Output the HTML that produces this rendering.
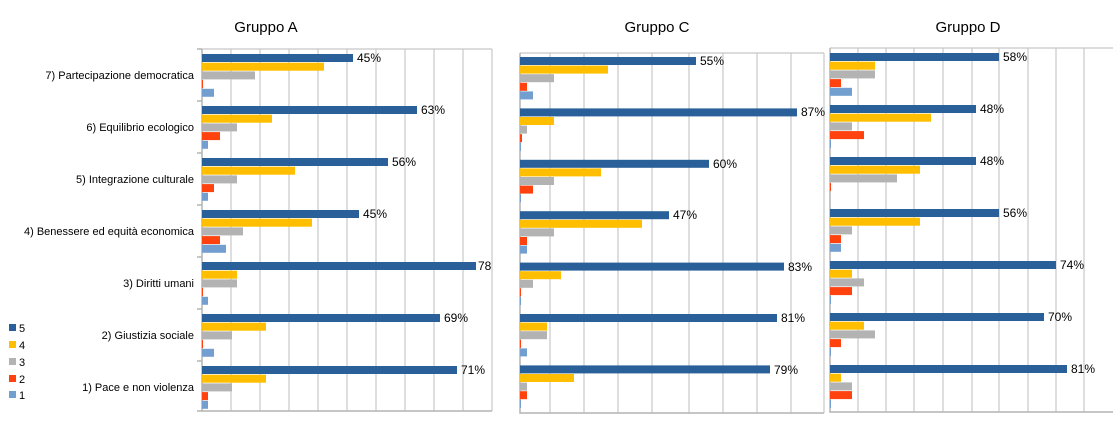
<!DOCTYPE html>
<html><head><meta charset="utf-8"><style>
html,body{margin:0;padding:0;background:#fff;}
svg{display:block;font-family:"Liberation Sans",sans-serif;}
</style></head><body>
<svg width="1117" height="447" viewBox="0 0 1117 447" xmlns="http://www.w3.org/2000/svg">
<g font-size="15" fill="#000" text-anchor="middle">
<text x="266" y="32">Gruppo A</text>
<text x="657" y="32">Gruppo C</text>
<text x="968" y="32">Gruppo D</text>
</g>
<g stroke="#c8c8c8" stroke-width="1.2" fill="none">
<path d="M231 49V411M260 49V411M289 49V411M318 49V411M347 49V411M376 49V411M405 49V411M434 49V411M463 49V411M492 49V411"/>
<path d="M202 49H492"/>
<path d="M550 53V413M584 53V413M618 53V413M652 53V413M689 53V413M723 53V413M757 53V413M791 53V413"/>
<path d="M520 53H824M824 53V413"/>
<path d="M858 48V412M886 48V412M914 48V412M943 48V412M972 48V412M999 48V412M1028 48V412M1056 48V412M1084 48V412"/>
<path d="M830 48H1113"/>
</g>
<g stroke="#b3b3b3" stroke-width="1.5" fill="none">
<path d="M202 49V411H492M197 49H202M197 101H202M197 153H202M197 205H202M197 257H202M197 309H202M197 361H202M197 411H202"/>
<path d="M520 53V413H824"/>
<path d="M830 48V412H1113"/>
</g>
<g>
<g fill="#2a6099"><rect x="202" y="54" width="151" height="8"/><rect x="202" y="106" width="215" height="8"/><rect x="202" y="158" width="186" height="8"/><rect x="202" y="210" width="157" height="8"/><rect x="202" y="262" width="274" height="8"/><rect x="202" y="314" width="238" height="8"/><rect x="202" y="366" width="255" height="8"/></g>
<g fill="#ffbf00"><rect x="202" y="62.7" width="122" height="8"/><rect x="202" y="114.7" width="70" height="8"/><rect x="202" y="166.7" width="93" height="8"/><rect x="202" y="218.7" width="110" height="8"/><rect x="202" y="270.7" width="35" height="8"/><rect x="202" y="322.7" width="64" height="8"/><rect x="202" y="374.7" width="64" height="8"/></g>
<g fill="#b3b3b3"><rect x="202" y="71.4" width="53" height="8"/><rect x="202" y="123.4" width="35" height="8"/><rect x="202" y="175.4" width="35" height="8"/><rect x="202" y="227.4" width="41" height="8"/><rect x="202" y="279.4" width="35" height="8"/><rect x="202" y="331.4" width="30" height="8"/><rect x="202" y="383.4" width="30" height="8"/></g>
<g fill="#ff420e"><rect x="202" y="80.1" width="1" height="8"/><rect x="202" y="132.1" width="18" height="8"/><rect x="202" y="184.1" width="12" height="8"/><rect x="202" y="236.1" width="18" height="8"/><rect x="202" y="288.1" width="1" height="8"/><rect x="202" y="340.1" width="1" height="8"/><rect x="202" y="392.1" width="6" height="8"/></g>
<g fill="#729fcf"><rect x="202" y="88.8" width="12" height="8"/><rect x="202" y="140.8" width="6" height="8"/><rect x="202" y="192.8" width="6" height="8"/><rect x="202" y="244.8" width="24" height="8"/><rect x="202" y="296.8" width="6" height="8"/><rect x="202" y="348.8" width="12" height="8"/><rect x="202" y="400.8" width="6" height="8"/></g>
</g>
<g>
<g fill="#2a6099"><rect x="520" y="57" width="176" height="8"/><rect x="520" y="108.4" width="277" height="8"/><rect x="520" y="159.8" width="189" height="8"/><rect x="520" y="211.2" width="149" height="8"/><rect x="520" y="262.6" width="264" height="8"/><rect x="520" y="314" width="257" height="8"/><rect x="520" y="365.4" width="250" height="8"/></g>
<g fill="#ffbf00"><rect x="520" y="65.6" width="88" height="8"/><rect x="520" y="117" width="34" height="8"/><rect x="520" y="168.4" width="81" height="8"/><rect x="520" y="219.8" width="122" height="8"/><rect x="520" y="271.2" width="41" height="8"/><rect x="520" y="322.6" width="27" height="8"/><rect x="520" y="374" width="54" height="8"/></g>
<g fill="#b3b3b3"><rect x="520" y="74.2" width="34" height="8"/><rect x="520" y="125.6" width="7" height="8"/><rect x="520" y="177" width="34" height="8"/><rect x="520" y="228.4" width="34" height="8"/><rect x="520" y="279.8" width="13" height="8"/><rect x="520" y="331.2" width="27" height="8"/><rect x="520" y="382.6" width="7" height="8"/></g>
<g fill="#ff420e"><rect x="520" y="82.8" width="7" height="8"/><rect x="520" y="134.2" width="2" height="8"/><rect x="520" y="185.6" width="13" height="8"/><rect x="520" y="237" width="7" height="8"/><rect x="520" y="288.4" width="1" height="8"/><rect x="520" y="339.8" width="1" height="8"/><rect x="520" y="391.2" width="7" height="8"/></g>
<g fill="#729fcf"><rect x="520" y="91.4" width="13" height="8"/><rect x="520" y="142.8" width="1" height="8"/><rect x="520" y="194.2" width="1" height="8"/><rect x="520" y="245.6" width="7" height="8"/><rect x="520" y="297" width="1" height="8"/><rect x="520" y="348.4" width="7" height="8"/><rect x="520" y="399.8" width="1" height="8"/></g>
</g>
<g>
<g fill="#2a6099"><rect x="830" y="53" width="169" height="8"/><rect x="830" y="105" width="146" height="8"/><rect x="830" y="157" width="146" height="8"/><rect x="830" y="209" width="169" height="8"/><rect x="830" y="261" width="226" height="8"/><rect x="830" y="313" width="214" height="8"/><rect x="830" y="365" width="237" height="8"/></g>
<g fill="#ffbf00"><rect x="830" y="61.7" width="45" height="8"/><rect x="830" y="113.7" width="101" height="8"/><rect x="830" y="165.7" width="90" height="8"/><rect x="830" y="217.7" width="90" height="8"/><rect x="830" y="269.7" width="22" height="8"/><rect x="830" y="321.7" width="34" height="8"/><rect x="830" y="373.7" width="11" height="8"/></g>
<g fill="#b3b3b3"><rect x="830" y="70.4" width="45" height="8"/><rect x="830" y="122.4" width="22" height="8"/><rect x="830" y="174.4" width="67" height="8"/><rect x="830" y="226.4" width="22" height="8"/><rect x="830" y="278.4" width="34" height="8"/><rect x="830" y="330.4" width="45" height="8"/><rect x="830" y="382.4" width="22" height="8"/></g>
<g fill="#ff420e"><rect x="830" y="79.1" width="11" height="8"/><rect x="830" y="131.1" width="34" height="8"/><rect x="830" y="183.1" width="1" height="8"/><rect x="830" y="235.1" width="11" height="8"/><rect x="830" y="287.1" width="22" height="8"/><rect x="830" y="339.1" width="11" height="8"/><rect x="830" y="391.1" width="22" height="8"/></g>
<g fill="#729fcf"><rect x="830" y="87.8" width="22" height="8"/><rect x="830" y="139.8" width="1" height="8"/><rect x="830" y="243.8" width="11" height="8"/><rect x="830" y="295.8" width="1" height="8"/><rect x="830" y="347.8" width="1" height="8"/><rect x="830" y="399.8" width="1" height="8"/></g>
</g>
<g font-size="12" fill="#000">
<text x="357" y="62">45%</text><text x="421" y="114">63%</text><text x="392" y="166">56%</text><text x="363" y="218">45%</text><text x="478" y="270">78</text><text x="444" y="322">69%</text><text x="461" y="374">71%</text>
<text x="700" y="65">55%</text><text x="801" y="116">87%</text><text x="713" y="168">60%</text><text x="673" y="219">47%</text><text x="788" y="271">83%</text><text x="781" y="322">81%</text><text x="774" y="374">79%</text>
<text x="1003" y="61">58%</text><text x="980" y="113">48%</text><text x="980" y="165">48%</text><text x="1003" y="217">56%</text><text x="1060" y="269">74%</text><text x="1048" y="321">70%</text><text x="1071" y="373">81%</text>
</g>
<g font-size="11" fill="#000" text-anchor="end">
<text x="194" y="79">7) Partecipazione democratica</text>
<text x="194" y="131">6) Equilibrio ecologico</text>
<text x="194" y="183">5) Integrazione culturale</text>
<text x="194" y="235">4) Benessere ed equità economica</text>
<text x="194" y="287">3) Diritti umani</text>
<text x="194" y="339">2) Giustizia sociale</text>
<text x="194" y="391">1) Pace e non violenza</text>
</g>
<g font-size="11" fill="#000">
<rect x="9" y="324" width="7" height="7" fill="#2a6099"/><text x="19" y="332">5</text>
<rect x="9" y="341" width="7" height="7" fill="#ffbf00"/><text x="19" y="349">4</text>
<rect x="9" y="358" width="7" height="7" fill="#b3b3b3"/><text x="19" y="366">3</text>
<rect x="9" y="375" width="7" height="7" fill="#ff420e"/><text x="19" y="383">2</text>
<rect x="9" y="391" width="7" height="7" fill="#729fcf"/><text x="19" y="399">1</text>
</g>
</svg>
</body></html>
